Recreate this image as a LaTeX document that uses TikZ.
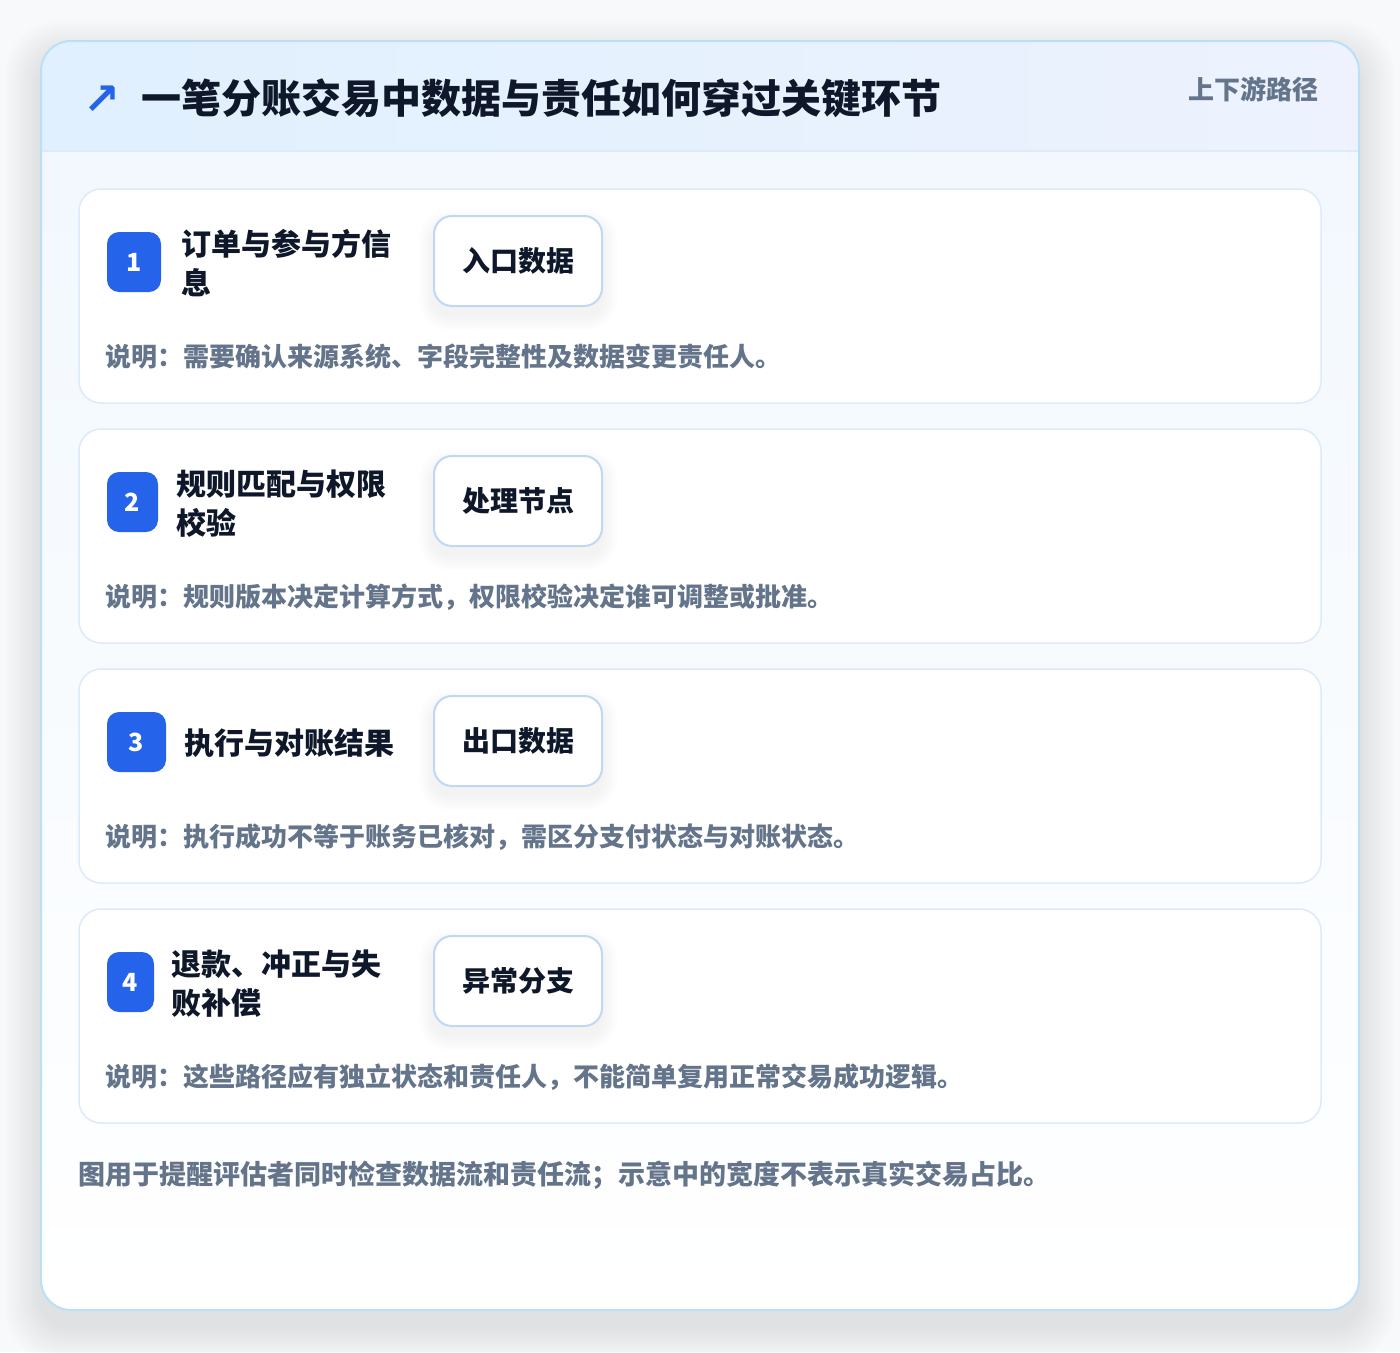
\documentclass[tikz,border=0pt]{standalone}
\usepackage{fontspec}
\setmainfont{Noto Sans CJK SC}
\newfontfamily\symf{DejaVu Sans}
\definecolor{ink}{HTML}{0F172A}
\definecolor{muted}{HTML}{64748B}
\definecolor{brand}{HTML}{2563EB}
\definecolor{outerb}{HTML}{BAE0F8}
\definecolor{cardb}{HTML}{DCEAFB}
\definecolor{tagb}{HTML}{BFD8F6}
\definecolor{hdrL}{HTML}{E0F0FE}
\definecolor{hdrR}{HTML}{EDF2FE}
\definecolor{bodyT}{HTML}{F2F8FE}
\definecolor{pagebg}{HTML}{F8F9FA}
\tikzset{
  cardbox/.style={draw=cardb, line width=1.5pt, fill=white, rounded corners=22pt,
    minimum width=1242pt, minimum height=214pt},
  badgebox/.style={fill=brand, rounded corners=12pt, minimum height=60pt,
    text=white, font=\bfseries\fontsize{25}{25}\selectfont},
  tagbox/.style={draw=tagb, line width=2pt, fill=white, rounded corners=18pt,
    minimum width=168pt, minimum height=90pt, text=ink,
    font=\bfseries\fontsize{28}{30}\selectfont},
  titletext/.style={text=ink, align=left, font=\bfseries\fontsize{30}{39}\selectfont},
  desctext/.style={text=muted, font=\bfseries\fontsize{26}{30}\selectfont},
}
\newcommand\flowcard[6]{%
  \pgfmathsetmacro\ct{189+240*(#1-1)}
  \node[cardbox, anchor=north west] (card#1) at (79,\ct) {};
  \node[badgebox, minimum width=#2pt, anchor=west] (badge#1) at (107,\ct+73) {#1};
  \node[titletext, anchor=west] (title#1) at (#3,\ct+74.5) {#4};
  \foreach \k in {1,...,6} {
    \fill[black, opacity=0.006, rounded corners=18pt+\k*2pt]
      (434-\k*2.5,\ct+28+8-\k*2.5) rectangle (602+\k*2.5,\ct+118+8+\k*2.5);
  }
  \node[tagbox] (tag#1) at (518,\ct+72) {#5};
  \node[desctext, anchor=west] (desc#1) at (105,\ct+168) {#6};
}
\begin{document}
\begin{tikzpicture}[x=1pt,y=-1pt, every node/.style={inner sep=0pt, outer sep=0pt}]
\useasboundingbox (0,0) rectangle (1400,1352);
\fill[pagebg] (0,0) rectangle (1400,1352);
% soft shadow of the outer card
\foreach \k in {1,...,12} {
  \fill[black, opacity=0.006, rounded corners=30pt+\k*2pt]
    (41-\k*3,41-\k*3+16) rectangle (1359+\k*3,1310+\k*3+16);
}
\begin{scope}
  \clip[rounded corners=30pt] (41,41) rectangle (1359,1310);
  \shade[top color=bodyT, bottom color=white] (41,151) rectangle (1359,1310);
  \shade[left color=hdrL, right color=hdrR] (41,41) rectangle (1359,151);
  \draw[cardb, line width=1.5pt] (41,151) -- (1359,151);
\end{scope}
\draw[outerb, line width=2pt, rounded corners=30pt] (41,41) rectangle (1359,1310);
% header
\node[anchor=west, text=brand, font=\symf\bfseries\fontsize{44}{44}\selectfont] (icon) at (83,100) {↗};
\node[anchor=west, text=ink, font=\bfseries\fontsize{40}{48}\selectfont] (title) at (141,98)
  {一笔分账交易中数据与责任如何穿过关键环节};
\node[anchor=east, text=muted, font=\bfseries\fontsize{26}{30}\selectfont] (scopelabel) at (1318,89)
  {上下游路径};
% cards
\flowcard{1}{54}{181}{订单与参与方信\\息}{入口数据}{说明：需要确认来源系统、字段完整性及数据变更责任人。}
\flowcard{2}{51}{176}{规则匹配与权限\\校验}{处理节点}{说明：规则版本决定计算方式，权限校验决定谁可调整或批准。}
\flowcard{3}{59}{184}{执行与对账结果}{出口数据}{说明：执行成功不等于账务已核对，需区分支付状态与对账状态。}
\flowcard{4}{47}{171}{退款、冲正与失\\败补偿}{异常分支}{说明：这些路径应有独立状态和责任人，不能简单复用正常交易成功逻辑。}
% footer note
\node[anchor=west, text=muted, font=\bfseries\fontsize{27}{32}\selectfont] (note) at (78,1175)
  {图用于提醒评估者同时检查数据流和责任流；示意中的宽度不表示真实交易占比。};
\end{tikzpicture}
\end{document}
